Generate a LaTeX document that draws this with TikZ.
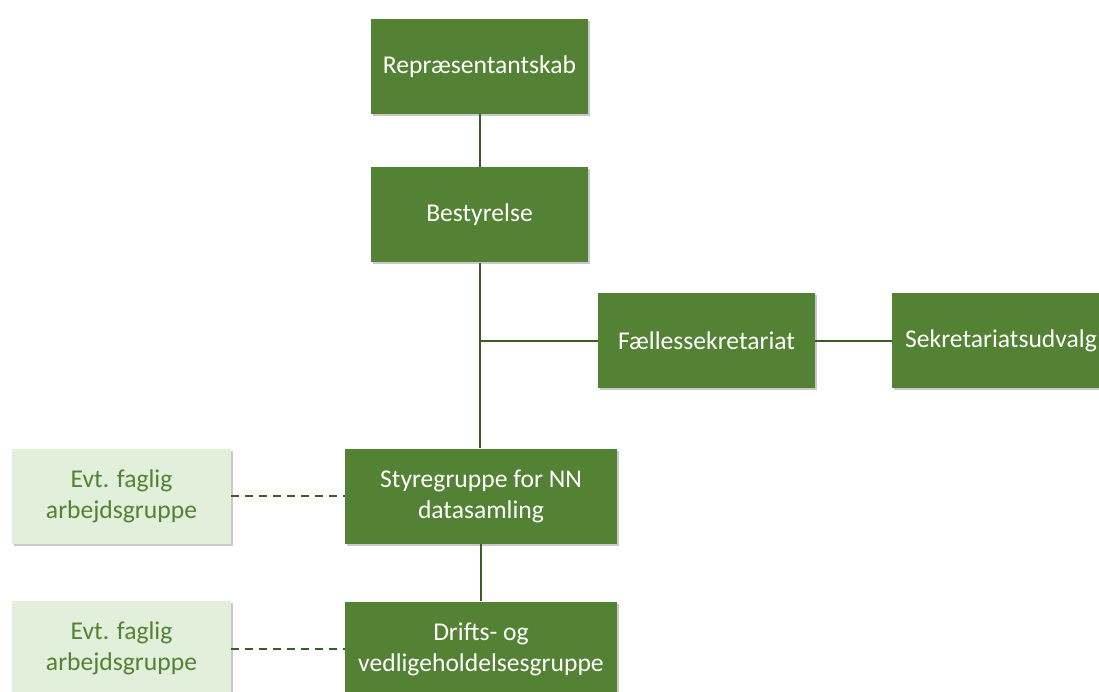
\documentclass[tikz,border=0pt]{standalone}
\usepackage{fontspec}
\setmainfont{Carlito}
\usepackage{xcolor}
\usetikzlibrary{shadows}
\definecolor{orggreen}{HTML}{548235}
\definecolor{palegreen}{HTML}{E2EFDA}
\definecolor{linegreen}{HTML}{3B5E26}

\begin{document}
\begin{tikzpicture}[x=1pt, y=-1pt,
  unit/.style={fill=orggreen, text=white, minimum height=95pt, align=center,
    font=\fontsize{25.6}{31}\selectfont, inner sep=0pt,
    drop shadow={shadow xshift=2pt, shadow yshift=-2pt, opacity=0.35, fill=black!60}},
  workgroup/.style={unit, fill=palegreen, text=orggreen},
  link/.style={draw=linegreen, line width=2pt},
  optional/.style={link, dash pattern=on 8pt off 6pt}]
\useasboundingbox[fill=white] (0,0) rectangle (1099,692);
\clip (0,0) rectangle (1099,692);

\node[unit, minimum width=217pt] (rep) at (479.5,66.5) {Repræsentantskab};
\node[unit, minimum width=217pt] (best) at (479.5,215) {Bestyrelse};
\node[unit, minimum width=217pt] (sek) at (706.5,340.5) {Fællessekretariat};
\node[unit, minimum width=218pt] (udv) at (1001,340.5) {Sekretariatsudvalg};
\node[unit, minimum width=272pt] (styr) at (481,496) {Styregruppe for NN\\datasamling};
\node[unit, minimum width=272pt] (drift) at (481,649) {Drifts- og\\vedligeholdelsesgruppe};
\node[workgroup, minimum width=219pt] (fag1) at (121.5,496) {Evt. faglig\\arbejdsgruppe};
\node[workgroup, minimum width=219pt] (fag2) at (121.5,648.5) {Evt. faglig\\arbejdsgruppe};

\coordinate (split) at (best.south |- sek.west);

\draw[link] (rep) -- (best);
\draw[link] (best.south) -- (split) -- (styr.north -| split);
\draw[link] (split) -- (sek.west);
\draw[link] (sek) -- (udv);
\draw[link] (styr) -- (drift);
\draw[optional] (fag1) -- (styr);
\draw[optional] (fag2.east) -- (drift.west |- fag2.east);
\end{tikzpicture}
\end{document}
